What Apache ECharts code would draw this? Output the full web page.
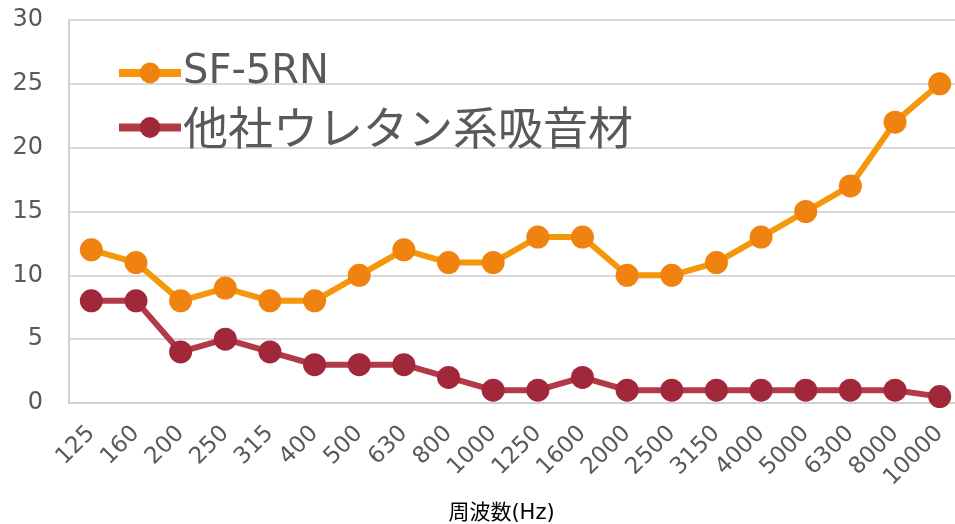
<!DOCTYPE html>
<html>
<head>
<meta charset="utf-8">
<script src="https://cdn.jsdelivr.net/npm/echarts@6/dist/echarts.min.js"></script>
<style>
    html, body { margin: 0; padding: 0; background: #fff; }
    #chart { width: 955px; height: 524px; }
</style>
</head>
<body>
<div id="chart"></div>
<script>
// 周波数 (Hz)
const freqs = ['125','160','200','250','315','400','500','630','800','1000','1250','1600','2000','2500','3150','4000','5000','6300','8000','10000'];
const sf5rn = [12, 11, 8, 9, 8, 8, 10, 12, 11, 11, 13, 13, 10, 10, 11, 13, 15, 17, 22, 25];
const otherUrethane = [8, 8, 4, 5, 4, 3, 3, 3, 2, 1, 1, 2, 1, 1, 1, 1, 1, 1, 1, 0.5];
const yTicks = [0, 5, 10, 15, 20, 25, 30];

const chart = echarts.init(document.getElementById('chart'));

const labelFont = '"DejaVu Sans", "Noto Sans CJK JP", sans-serif';

function makeSeries(name, data, lineColor, dotColor){
    return {
        name: name,
        type: 'line',
        data: data,
        symbol: 'circle',
        symbolSize: 23,
        lineStyle: { color: lineColor, width: 6 },
        itemStyle: { color: dotColor },
        emphasis: { disabled: true },
        z: name === 'SF-5RN' ? 3 : 2
    };
}

let option = {
    animation: false,
    backgroundColor: '#ffffff',
    grid: {
        left: 69,
        right: -7,
        top: 20,
        bottom: 121,
        containLabel: false,
        outerBoundsMode: 'none'
    },
    legend: {
        orient: 'vertical',
        left: 110,
        top: 48,
        itemWidth: 62,
        itemHeight: 26,
        itemGap: 12,
        data: ['SF-5RN', '他社ウレタン系吸音材'],
        lineStyle: { width: 8 },
        formatter: function(name){
            // 日本語の凡例は少し大きく
            return name === 'SF-5RN' ? name : '{j|' + name + '}';
        },
        textStyle: {
            fontSize: 40,
            color: '#595959',
            fontFamily: labelFont,
            padding: [0, 0, 0, -3],
            rich: {
                j: {
                    fontSize: 45,
                    color: '#595959',
                    fontFamily: '"Noto Sans CJK JP", sans-serif'
                }
            }
        }
    },
    xAxis: {
        type: 'category',
        data: freqs,
        boundaryGap: true,
        name: '周波数(Hz)',
        nameLocation: 'middle',
        nameGap: 100,
        nameTextStyle: {
            fontSize: 21,
            color: '#000',
            fontFamily: labelFont,
            padding: [0, 28, 0, 0]
        },
        axisLine: { lineStyle: { color: '#d0d0d0', width: 2 } },
        axisTick: { show: false },
        axisLabel: {
            rotate: 45,
            interval: 0,
            margin: 27,
            fontSize: 23,
            color: '#595959',
            fontFamily: labelFont
        }
    },
    yAxis: {
        type: 'value',
        min: yTicks[0],
        max: yTicks[yTicks.length - 1],
        interval: 5,
        axisLine: { show: true, lineStyle: { color: '#d0d0d0', width: 2 } },
        axisTick: { show: false },
        splitLine: { lineStyle: { color: '#d9d9d9', width: 2 } },
        axisLabel: {
            margin: 26,
            fontSize: 24,
            color: '#595959',
            fontFamily: labelFont
        }
    },
    series: [
        makeSeries('SF-5RN', sf5rn, '#f5970a', '#f0830f'),
        makeSeries('他社ウレタン系吸音材', otherUrethane, '#b33b48', '#a0283a')
    ]
};
chart.setOption(option);
</script>
</body>
</html>
